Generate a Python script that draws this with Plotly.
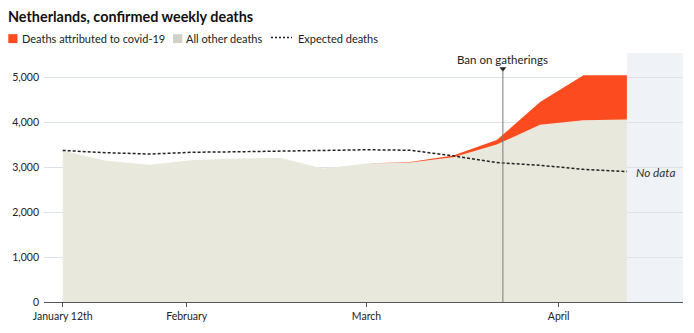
import plotly.graph_objects as go
import pandas as pd

# ---- data ----
weeks = pd.date_range("2020-01-12", periods=14, freq="7D")
other_deaths = [3370, 3140, 3050, 3160, 3190, 3205, 2970, 3080, 3100, 3220, 3500, 3940, 4040, 4060]
covid_deaths = [0, 0, 0, 0, 0, 0, 0, 0, 15, 40, 100, 510, 1000, 985]
expected_deaths = [3370, 3320, 3290, 3330, 3340, 3350, 3360, 3385, 3375, 3250, 3100, 3040, 2950, 2900]
ban_date = "2020-03-23"
ban_label = "Ban on gatherings"
tick_dates = ["2020-01-12", "2020-02-01", "2020-03-01", "2020-04-01"]
tick_labels = ["January 12th", "February", "March", "April"]
y_ticks = [0, 1000, 2000, 3000, 4000, 5000]

RED = "#fc4c1f"
GREY = "#e9e8dd"
NODATA = "#eff2f6"
GRID = "#dbe3e9"
FONT = "Lato, sans-serif"

W, H = 694, 333
ML, MR, MT, MB = 44, 11, 53, 29
PW, PH = W - ML - MR, H - MT - MB


def px_x(px):
    return (px - ML) / PW


def px_y(py):
    return (H - MB - py) / PH


fig = go.Figure()

fig.add_trace(go.Scatter(
    x=weeks, y=other_deaths, stackgroup="d", mode="lines",
    line=dict(width=0, color=GREY), fillcolor=GREY, name="All other deaths",
    hoverinfo="skip"))
fig.add_trace(go.Scatter(
    x=weeks, y=covid_deaths, stackgroup="d", mode="lines",
    line=dict(width=0, color=RED), fillcolor=RED, name="Deaths attributed to covid-19",
    hoverinfo="skip"))
fig.add_trace(go.Scatter(
    x=weeks, y=expected_deaths, mode="lines",
    line=dict(width=1.5, color="#222", dash="3px,2px"), name="Expected deaths",
    hoverinfo="skip"))

# no-data region
fig.add_shape(type="rect", xref="x", yref="paper", x0=weeks[-1], x1="2020-04-25",
              y0=0, y1=1, fillcolor=NODATA, line_width=0, layer="below")

# ban on gatherings
fig.add_shape(type="line", xref="x", yref="y", x0=ban_date, x1=ban_date, y0=0, y1=5160,
              line=dict(color="#7a7a7a", width=1))
fig.add_trace(go.Scatter(x=[ban_date], y=[5185], mode="markers",
                         marker=dict(symbol="triangle-down", size=6, color="#222"),
                         hoverinfo="skip", showlegend=False))
fig.add_annotation(x=ban_date, y=5390, text=ban_label, showarrow=False,
                   xanchor="center", yanchor="middle",
                   font=dict(size=11.5, color="#222", family=FONT))

# no data label
fig.add_annotation(x=weeks[-1], y=2870, text="<i>No data</i>", showarrow=False,
                   xanchor="left", yanchor="middle", xshift=7,
                   font=dict(size=11.8, color="#333", family=FONT))

# custom legend
legend_y = 38.5
fig.add_shape(type="rect", xref="paper", yref="paper",
              x0=px_x(8.3), x1=px_x(17.5), y0=px_y(43), y1=px_y(34),
              fillcolor=RED, line_width=0)
fig.add_annotation(xref="paper", yref="paper", x=px_x(19.5), y=px_y(legend_y),
                   text="Deaths attributed to covid-19", showarrow=False,
                   xanchor="left", yanchor="middle",
                   font=dict(size=11, color="#222", family=FONT))
fig.add_shape(type="rect", xref="paper", yref="paper",
              x0=px_x(173), x1=px_x(182.3), y0=px_y(43), y1=px_y(34),
              fillcolor="#d2d1c6", line_width=0)
fig.add_annotation(xref="paper", yref="paper", x=px_x(184), y=px_y(legend_y),
                   text="All other deaths", showarrow=False,
                   xanchor="left", yanchor="middle",
                   font=dict(size=11, color="#222", family=FONT))
fig.add_shape(type="line", xref="paper", yref="paper",
              x0=px_x(271), x1=px_x(292), y0=px_y(37.5), y1=px_y(37.5),
              line=dict(color="#222", width=1.5, dash="2px,2px"))
fig.add_annotation(xref="paper", yref="paper", x=px_x(295.5), y=px_y(legend_y),
                   text="Expected deaths", showarrow=False,
                   xanchor="left", yanchor="middle",
                   font=dict(size=11, color="#222", family=FONT))

fig.update_layout(
    width=W, height=H,
    margin=dict(l=ML, r=MR, t=MT, b=MB),
    paper_bgcolor="white", plot_bgcolor="white",
    showlegend=False,
    font=dict(family=FONT, size=11, color="#222"),
    title=dict(text="<b>Netherlands, confirmed weekly deaths</b>",
               x=8 / W, xanchor="left", xref="container",
               y=1 - 16.5 / H, yanchor="middle", yref="container",
               font=dict(size=14.4, color="#111", family=FONT)),
    xaxis=dict(
        type="date",
        range=["2020-01-08 23:37", "2020-04-21 01:12"],
        tickmode="array", tickvals=tick_dates, ticktext=tick_labels,
        ticks="outside", ticklen=4, tickcolor="#555", tickwidth=1,
        showline=True, linecolor="#555", linewidth=1,
        showgrid=False, zeroline=False,
        tickfont=dict(size=10.5, color="#222"),
    ),
    yaxis=dict(
        range=[0, 5537],
        tickmode="array", tickvals=y_ticks, tickformat=",",
        showgrid=True, gridcolor=GRID, gridwidth=1,
        zeroline=False, showline=False, ticks="",
        ticklabelstandoff=4,
        tickfont=dict(size=10.5, color="#222"),
    ),
)

fig.write_html("out.html")
